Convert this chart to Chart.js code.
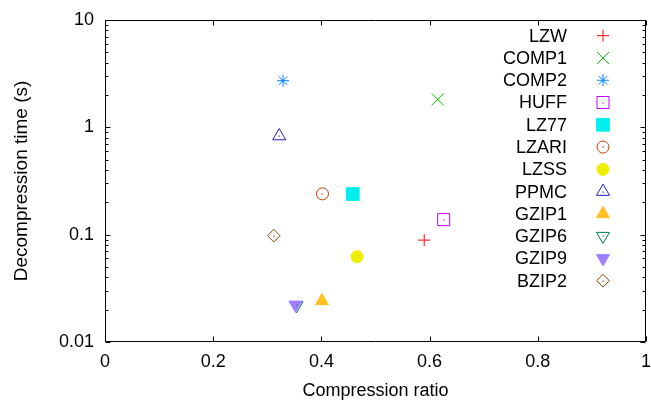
<!DOCTYPE html>
<html>
<head>
<meta charset="utf-8">
<title>Compression ratio vs decompression time</title>
<script src="https://cdn.jsdelivr.net/npm/chart.js@4/dist/chart.umd.min.js"></script>
<style>
  html, body { margin: 0; padding: 0; background: #fff; overflow: hidden; }
  canvas { display: block; }
</style>
</head>
<body>
<canvas id="myChart" width="651" height="405"></canvas>
<script>
// compressors and their measurements
const names = ["LZW", "COMP1", "COMP2", "HUFF", "LZ77", "LZARI", "LZSS", "PPMC", "GZIP1", "GZIP6", "GZIP9", "BZIP2"];
const ratio = [0.590, 0.615, 0.329, 0.626, 0.458, 0.402, 0.466, 0.322, 0.401, 0.354, 0.352, 0.312];
const decompTime = [0.089, 1.82, 2.72, 0.138, 0.239, 0.240, 0.0623, 0.83, 0.0241, 0.0219, 0.0222, 0.0978];

const xTicks = [0, 0.2, 0.4, 0.6, 0.8, 1];
const yTicks = [0.01, 0.1, 1, 10];

// gnuplot-ish line types: colour, marker, size, filled
const colors = ["#ff0000", "#00c000", "#0080ff", "#c000ff", "#00eeee", "#c04000",
                "#eeee00", "#2020c0", "#ffc020", "#008040", "#a080ff", "#804000"];
const markers = ["cross", "crossRot", "star", "rect", "rect", "circle",
                 "circle", "triangle", "triangle", "triangle", "triangle", "rectRot"];
const rotations = [0, 0, 0, 0, 0, 0, 0, 0, 0, 180, 180, 0];
const sizes = [6, 8.5, 6, 8.5, 9, 6, 6, 7.5, 7.5, 7.5, 7.5, 6.3];
const filled = [false, false, false, false, true, false, true, false, true, false, true, false];
const dotted = [false, false, false, true, false, true, false, true, false, true, false, true];

const FONT = '"Liberation Sans", Arial, Helvetica, sans-serif';
Chart.defaults.font.family = FONT;
Chart.defaults.font.size = 18;
Chart.defaults.color = "#000";

let datasets = names.map((name, i) => ({
    label: name,
    data: [{x: ratio[i], y: decompTime[i]}],
    order: -i, // later series on top, like gnuplot
    pointStyle: markers[i],
    rotation: rotations[i],
    radius: sizes[i],
    hoverRadius: sizes[i],
    borderWidth: 1,
    borderColor: colors[i],
    backgroundColor: filled[i] ? colors[i] : "rgba(0,0,0,0)",
    centerDot: dotted[i]
}));

let pointOpts = (ds) => ({
    pointStyle: ds.pointStyle,
    rotation: ds.rotation,
    radius: ds.radius,
    borderWidth: ds.borderWidth
});

let dot = (ctx, x, y, color) => {
    ctx.fillStyle = color;
    ctx.fillRect(Math.round(x) - 0.5, Math.round(y) - 0.5, 1.2, 1.2);
};

// border box with inward ticks on all four sides
const framePlugin = {
    id: "frame",
    afterDraw(chart) {
        const {ctx, chartArea: a, scales: {x, y}} = chart;
        const L = Math.round(a.left) + 0.5, R = Math.round(a.right) - 0.5;
        const T = Math.round(a.top) + 0.5, B = Math.round(a.bottom) - 0.5;
        ctx.save();
        ctx.strokeStyle = "#000";
        ctx.lineWidth = 1;
        ctx.beginPath();
        ctx.rect(L, T, R - L, B - T);
        xTicks.forEach(v => {
            const px = Math.round(x.getPixelForValue(v)) + 0.5;
            ctx.moveTo(px, B); ctx.lineTo(px, B - 5);
            ctx.moveTo(px, T); ctx.lineTo(px, T + 5);
        });
        yTicks.forEach((v, k) => {
            const py = Math.round(y.getPixelForValue(v)) + 0.5;
            ctx.moveTo(L, py); ctx.lineTo(L + 5, py);
            ctx.moveTo(R, py); ctx.lineTo(R - 5, py);
            if (k === yTicks.length - 1) return;
            for (let m = 2; m <= 9; m++) {
                const pm = Math.round(y.getPixelForValue(v * m)) + 0.5;
                ctx.moveTo(L, pm); ctx.lineTo(L + 3, pm);
                ctx.moveTo(R, pm); ctx.lineTo(R - 3, pm);
            }
        });
        ctx.stroke();
        ctx.restore();
    }
};

// small dot in the middle of the open markers
const dotPlugin = {
    id: "centerDots",
    afterDatasetsDraw(chart) {
        const ctx = chart.ctx;
        chart.data.datasets.forEach((ds, i) => {
            if (!ds.centerDot) return;
            chart.getDatasetMeta(i).data.forEach(pt => dot(ctx, pt.x, pt.y, ds.borderColor));
        });
    }
};

// key in the top right: label, then marker
const keyPlugin = {
    id: "key",
    afterDraw(chart) {
        const ctx = chart.ctx;
        ctx.save();
        ctx.font = "18px " + FONT;
        ctx.textAlign = "right";
        ctx.textBaseline = "middle";
        chart.data.datasets.forEach((ds, i) => {
            const ky = 35.7 + i * 22.27;
            ctx.fillStyle = "#000";
            ctx.fillText(ds.label, 567, ky + 1);
            ctx.strokeStyle = ds.borderColor;
            ctx.fillStyle = ds.backgroundColor;
            ctx.lineWidth = 1;
            Chart.helpers.drawPoint(ctx, pointOpts(ds), 603, ky);
            if (ds.centerDot) dot(ctx, 603, ky, ds.borderColor);
        });
        ctx.restore();
    }
};

let myChart = new Chart("myChart", {
    type: "scatter",
    data: {datasets: datasets},
    options: {
        responsive: false,
        animation: false,
        devicePixelRatio: 1,
        layout: {
            autoPadding: false,
            padding: {top: 20, right: 5, left: 0, bottom: 0}
        },
        plugins: {
            legend: {display: false},
            tooltip: {enabled: false}
        },
        events: [],
        scales: {
            x: {
                type: "linear",
                min: 0,
                max: 1,
                afterBuildTicks: (scale) => { scale.ticks = xTicks.map(v => ({value: v})); },
                afterFit: (scale) => {
                    scale.height = 63;
                    scale.paddingLeft = 0;
                    scale.paddingRight = 0;
                },
                grid: {display: false},
                border: {display: false},
                ticks: {
                    autoSkip: false,
                    maxRotation: 0,
                    padding: 1,
                    callback: (value) => String(value)
                },
                title: {
                    display: true,
                    text: "Compression ratio",
                    padding: {top: 0, bottom: 3}
                }
            },
            y: {
                type: "logarithmic",
                min: 0.01,
                max: 10,
                afterBuildTicks: (scale) => { scale.ticks = yTicks.map(v => ({value: v})); },
                afterFit: (scale) => {
                    scale.width = 105;
                    scale.paddingTop = 0;
                    scale.paddingBottom = 0;
                },
                grid: {display: false},
                border: {display: false},
                ticks: {
                    autoSkip: false,
                    padding: 3,
                    callback: (value) => String(value)
                },
                title: {
                    display: true,
                    text: "Decompression time (s)",
                    font: {size: 19},
                    padding: {top: 10, bottom: 0}
                }
            }
        }
    },
    plugins: [framePlugin, dotPlugin, keyPlugin]
});
</script>
</body>
</html>
